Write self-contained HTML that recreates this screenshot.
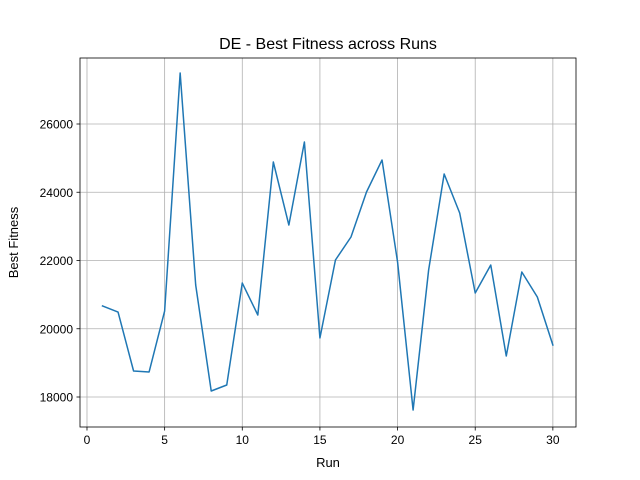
<!DOCTYPE html>
<html><head><meta charset="utf-8"><style>
body{margin:0;background:#fff;}
svg{display:block;font-family:"Liberation Sans","DejaVu Sans",sans-serif;}
</style></head><body>
<svg id="chart" width="640" height="480">
<rect width="640" height="480" fill="#fff"/>
<text x="328" y="49" text-anchor="middle" font-size="16">DE - Best Fitness across Runs</text>
<text x="328" y="467" text-anchor="middle" font-size="13">Run</text>
<text transform="translate(18,242.5) rotate(-90)" text-anchor="middle" font-size="13">Best Fitness</text>
<g id="grid"></g><g id="ticks"></g><g id="series"></g>
<rect x="80" y="58" width="496" height="369" fill="none" stroke="#000" stroke-width="0.8"/>
</svg>
<script>
const runs=[1,2,3,4,5,6,7,8,9,10,11,12,13,14,15,16,17,18,19,20,21,22,23,24,25,26,27,28,29,30];
const fitness=[20667,20490,18762,18733,20520,27494,21282,18176,18352,21340,20403,24886,23040,25472,19729,22015,22689,24007,24945,21956,17619,21722,24535,23392,21047,21868,19201,21663,20930,19524];
const xTicks=[0,5,10,15,20,25,30];
const yTicks=[18000,20000,22000,24000,26000];
const L=80,R=576,T=58,B=427;
const xMin=-0.45,xMax=31.49,yMin=17121,yMax=27934;
const sx=v=>L+(v-xMin)/(xMax-xMin)*(R-L);
const sy=v=>B-(v-yMin)/(yMax-yMin)*(B-T);
const NS="http://www.w3.org/2000/svg";
const grid=document.getElementById('grid'),ticks=document.getElementById('ticks'),series=document.getElementById('series');
function mk(tag,attrs,parent,text){const e=document.createElementNS(NS,tag);for(const k in attrs)e.setAttribute(k,attrs[k]);if(text!==undefined)e.textContent=text;parent.appendChild(e);return e;}
xTicks.forEach(t=>{const x=sx(t);
 let g=mk('line',{x1:x,x2:x,y1:T,y2:B,stroke:'#b0b0b0','stroke-width':0.8},grid);
 
 
 let k=mk('line',{x1:x,x2:x,y1:B,y2:B+3.5,stroke:'#000','stroke-width':0.8},ticks);
 
 
 let l=mk('text',{x:x,y:B+17,'text-anchor':'middle','font-size':12},ticks,String(t));
 
 
});
yTicks.forEach(t=>{const y=sy(t);
 let g=mk('line',{x1:L,x2:R,y1:y,y2:y,stroke:'#b0b0b0','stroke-width':0.8},grid);
 
 
 let k=mk('line',{x1:L-3.5,x2:L,y1:y,y2:y,stroke:'#000','stroke-width':0.8},ticks);
 
 
 let l=mk('text',{x:L-7,y:y+4.5,'text-anchor':'end','font-size':12},ticks,String(t));
 
 
});
const pts=runs.map((r,i)=>sx(r).toFixed(2)+','+sy(fitness[i]).toFixed(2)).join(' ');
let pl=mk('polyline',{points:pts,fill:'none',stroke:'#1f77b4','stroke-width':1.5,'stroke-linejoin':'round','stroke-linecap':'square'},series);


</script>
</body></html>
